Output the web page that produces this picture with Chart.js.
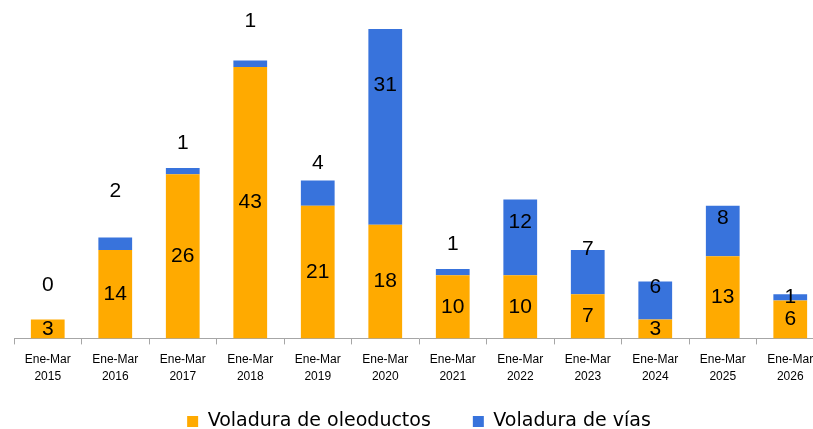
<!DOCTYPE html>
<html>
<head>
<meta charset="utf-8">
<script src="https://cdn.jsdelivr.net/npm/chart.js@4"></script>
<style>
  html, body { margin: 0; padding: 0; background: #fff; overflow: hidden; }
  #wrap { width: 830px; height: 429px; }
</style>
</head>
<body>
<div id="wrap"><canvas id="voladurasChart"></canvas></div>
<script>
const years = ["2015", "2016", "2017", "2018", "2019", "2020", "2021", "2022", "2023", "2024", "2025", "2026"];
const oleoductos = [3, 14, 26, 43, 21, 18, 10, 10, 7, 3, 13, 6];
const vias = [0, 2, 1, 1, 4, 31, 1, 12, 7, 6, 8, 1];

// where each "vías" label sits, in px above the top of the stack (negative = inside)
const viasLabelLift = [34, 46, 25, 39, 17, -56, 25, -23, 1, -6, -12, -3];

const ORANGE = "#FFAA00";
const BLUE = "#3873DC";

const labels = years.map((y) => ["Ene-Mar", y]);

// x axis is fitted shorter than its labels; give the label clip box the room back
const AXIS_SQUEEZE = 22;

// Value labels: oleoductos centred in the segment, vías nudged per bar
const valueLabels = {
  id: "valueLabels",
  afterLayout(chart) {
    chart.scales.x.bottom += AXIS_SQUEEZE;
  },
  afterDatasetsDraw(chart) {
    const ctx = chart.ctx;
    ctx.save();
    ctx.font = "21px 'Liberation Sans', Arial, sans-serif";
    ctx.fillStyle = "#000";
    ctx.textAlign = "center";
    ctx.textBaseline = "middle";
    const m0 = chart.getDatasetMeta(0);
    const m1 = chart.getDatasetMeta(1);
    m0.data.forEach((bar, i) => {
      ctx.fillText(String(oleoductos[i]), bar.x, (bar.y + bar.base) / 2);
    });
    m1.data.forEach((bar, i) => {
      ctx.fillText(String(vias[i]), bar.x, bar.y - viasLabelLift[i]);
    });
    ctx.restore();
  },
};

const ctx = document.getElementById("voladurasChart").getContext("2d");
new Chart(ctx, {
  type: "bar",
  data: {
    labels: labels,
    datasets: [
      {
        label: "Voladura de oleoductos",
        data: oleoductos,
        backgroundColor: ORANGE,
        borderWidth: 0,
      },
      {
        label: "Voladura de vías",
        data: vias,
        backgroundColor: BLUE,
        borderWidth: 0,
      },
    ],
  },
  options: {
    responsive: true,
    maintainAspectRatio: false,
    animation: false,
    layout: { padding: { left: 14, right: 6, top: 0, bottom: -12 } },
    datasets: { bar: { barPercentage: 1, categoryPercentage: 0.5 } },
    plugins: {
      tooltip: { enabled: false },
      legend: {
        position: "bottom",
        labels: {
          color: "#000",
          boxWidth: 11,
          boxHeight: 11,
          padding: 42,
          font: { family: "'DejaVu Sans', sans-serif", size: 19 },
        },
      },
    },
    scales: {
      x: {
        stacked: true,
        afterFit(scale) {
          scale.height -= AXIS_SQUEEZE;
        },
        grid: {
          offset: true,
          drawOnChartArea: false,
          drawTicks: true,
          tickLength: 6,
          color: "#A6A6A6",
        },
        border: { display: true, color: "#A6A6A6", width: 1 },
        ticks: {
          color: "#000",
          padding: 7,
          maxRotation: 0,
          autoSkip: false,
          font: { family: "'Liberation Sans', Arial, sans-serif", size: 12, lineHeight: 1.4 },
        },
      },
      y: {
        stacked: true,
        display: false,
        min: 0,
        max: 53.6,
      },
    },
  },
  plugins: [valueLabels],
});
</script>
</body>
</html>
